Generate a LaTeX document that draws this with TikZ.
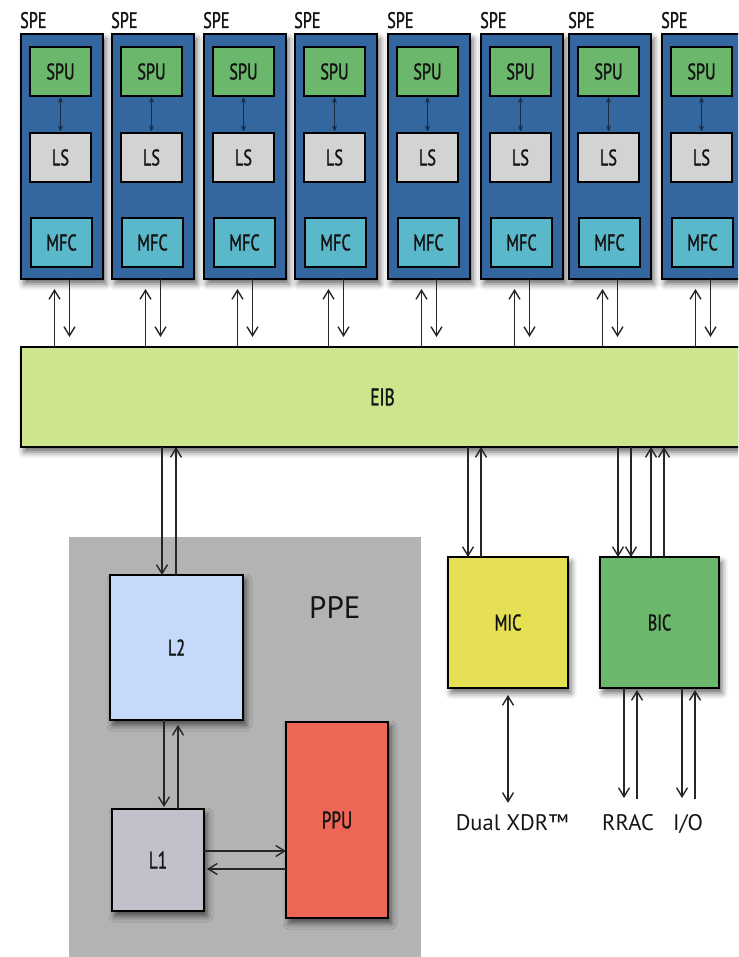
\documentclass[tikz,border=0pt]{standalone}
\usepackage{fontspec}
\setmainfont{PT Sans}
\newfontfamily\condfont{PT Sans}[FakeStretch=0.72,FakeBold=1.2]
\usetikzlibrary{arrows.meta,calc,shadows.blur}

\definecolor{speblue}{HTML}{3467A0}
\definecolor{spugreen}{HTML}{6BB76C}
\definecolor{lsgray}{HTML}{D3D3D3}
\definecolor{mfccyan}{HTML}{5BB8CB}
\definecolor{eibgreen}{HTML}{CDE68D}
\definecolor{ppegray}{HTML}{B3B3B3}
\definecolor{ltwoblue}{HTML}{C6D9FA}
\definecolor{lonegray}{HTML}{C1C1CB}
\definecolor{ppured}{HTML}{EE6655}
\definecolor{micyellow}{HTML}{E6E055}
\definecolor{navyline}{HTML}{1B2A45}
\definecolor{wire}{HTML}{262626}

\begin{document}
\begin{tikzpicture}[x=1pt,y=-1pt,
  box/.style={draw=black, line width=1.4pt, inner sep=0pt, outer sep=0pt,
    anchor=north west, text=black!92,
    font=\condfont\fontsize{22.5}{22.5}\selectfont},
  shad/.style={blur shadow={shadow xshift=3pt, shadow yshift=-5pt,
    shadow blur radius=6pt, shadow opacity=60}},
  toplbl/.style={inner sep=0pt, anchor=base west, text=black!92,
    font=\condfont\fontsize{22.5}{22.5}\selectfont},
  botlbl/.style={inner sep=0pt, anchor=base, text=black!92,
    font=\fontsize{22.5}{22.5}\selectfont},
  arr/.style={draw=wire, line width=1.4pt,
    -{Straight Barb[length=9pt,width=11pt,line width=1.4pt]}},
  dblarr/.style={draw=wire, line width=1.4pt,
    {Straight Barb[length=9pt,width=11pt,line width=1.4pt]}-{Straight Barb[length=9pt,width=11pt,line width=1.4pt]}},
  spuarr/.style={draw=navyline, line width=1.2pt,
    {Stealth[length=6pt,width=5pt]}-{Stealth[length=6pt,width=5pt]},
    shorten <=1pt, shorten >=1.5pt},
]
\useasboundingbox (0,0) rectangle (738,957);
\clip (0,0) rectangle (738,957);

% element interconnect bus
\node[box, shad, fill=eibgreen, minimum width=723pt, minimum height=100pt,
  font=\condfont\fontsize{24}{24}\selectfont] (eib) at (21,347) {EIB};

% the eight synergistic processing elements
\foreach \i/\L in {1/21,2/112,3/204,4/295,5/388,6/481,7/569,8/662} {
  \node[box, shad, fill=speblue, minimum width=82pt, minimum height=245pt] (spe\i) at (\L,34) {};
  \node[toplbl] (spename\i) at (\L-1,28) {SPE};
  \node[box, fill=spugreen, minimum width=61pt, minimum height=49pt] (spu\i) at (\L+9,47) {SPU};
  \node[box, fill=lsgray, minimum width=61pt, minimum height=49pt] (ls\i) at (\L+9,133) {LS};
  \node[box, fill=mfccyan, minimum width=61pt, minimum height=49pt] (mfc\i) at (\L+10,218) {MFC};
  \draw[spuarr] (spu\i.south) -- (ls\i.north);
  \coordinate (up\i) at ($(spe\i.south)+(-7.5,10)$);
  \coordinate (dn\i) at ($(spe\i.south)+(7.5,58)$);
  \draw[arr] (up\i |- eib.north) -- (up\i);
  \draw[arr] (dn\i |- spe\i.south) -- (dn\i);
}

% power processing element
\node[fill=ppegray, inner sep=0pt, outer sep=0pt, anchor=north west,
  minimum width=352pt, minimum height=425pt] (ppe) at (69,537) {};
\node[inner sep=0pt, anchor=base west, text=black!92,
  font=\fontsize{31}{31}\selectfont] (ppename) at (309,618) {PPE};
\node[box, shad, fill=ltwoblue, minimum width=133pt, minimum height=145pt] (ltwo) at (110,575) {L2};
\node[box, shad, fill=lonegray, minimum width=92pt, minimum height=102pt,
  font=\condfont\fontsize{24}{24}\selectfont] (lone) at (112,809) {L1};
\node[box, shad, fill=ppured, minimum width=102pt, minimum height=196pt,
  font=\condfont\fontsize{24}{24}\selectfont] (ppu) at (286,722) {PPU};

% memory and bus interface controllers
\node[box, shad, fill=micyellow, minimum width=120pt, minimum height=131pt] (mic) at (448,557) {MIC};
\node[box, shad, fill=spugreen, minimum width=119pt, minimum height=131pt] (bic) at (600,557) {BIC};

% external interfaces
\node[botlbl] (xdr) at (512,830) {Dual XDR™};
\node[botlbl] (rrac) at (628,830) {RRAC};
\node[botlbl] (io) at (688,830) {I/O};

% EIB <-> L2
\coordinate (ltwoin) at ($(ltwo.north)+(-14.5,0)$);
\coordinate (ltwoout) at ($(ltwo.north)+(-0.5,0)$);
\draw[arr] (ltwoin |- eib.south) -- (ltwoin);
\draw[arr] (ltwoout) -- (ltwoout |- eib.south);

% L2 <-> L1
\coordinate (lonein) at ($(lone.north)+(6,0)$);
\coordinate (loneout) at ($(lone.north)+(20,0)$);
\draw[arr, shorten >=2pt] (lonein |- ltwo.south) -- (lonein);
\draw[arr, shorten >=5pt] (loneout) -- (loneout |- ltwo.south);

% L1 <-> PPU
\coordinate (toppu) at ($(lone.east)+(0,-9)$);
\coordinate (fromppu) at ($(lone.east)+(0,9)$);
\draw[arr] (toppu) -- (toppu -| ppu.west);
\draw[arr, shorten >=3pt] (fromppu -| ppu.west) -- (fromppu);

% EIB <-> MIC
\coordinate (micin) at ($(mic.north)+(-40,0)$);
\coordinate (micout) at ($(mic.north)+(-27,0)$);
\draw[arr] (micin |- eib.south) -- (micin);
\draw[arr] (micout) -- (micout |- eib.south);

% EIB <-> BIC
\foreach \k/\dx in {a/-41.5,b/-28.5} {
  \coordinate (bicin\k) at ($(bic.north)+(\dx,0)$);
  \draw[arr] (bicin\k |- eib.south) -- (bicin\k);
}
\foreach \k/\dx in {a/-8.5,b/4.5} {
  \coordinate (bicout\k) at ($(bic.north)+(\dx,0)$);
  \draw[arr] (bicout\k) -- (bicout\k |- eib.south);
}

% MIC <-> Dual XDR
\coordinate (xdrend) at ($(xdr.north -| mic.south)+(0,-11)$);
\draw[dblarr, shorten <=7pt] (mic.south) -- (xdrend);

% BIC <-> RRAC and I/O
\foreach \k/\dx in {ra/-35.5,ia/22.5} {
  \coordinate (bicdn\k) at ($(bic.south)+(\dx,110)$);
  \draw[arr] (bicdn\k |- bic.south) -- (bicdn\k);
}
\foreach \k/\dx in {rb/-22.5,ib/35.5} {
  \coordinate (bicup\k) at ($(bic.south)+(\dx,111)$);
  \draw[arr, shorten >=2pt] (bicup\k) -- (bicup\k |- bic.south);
}
\end{tikzpicture}
\end{document}
